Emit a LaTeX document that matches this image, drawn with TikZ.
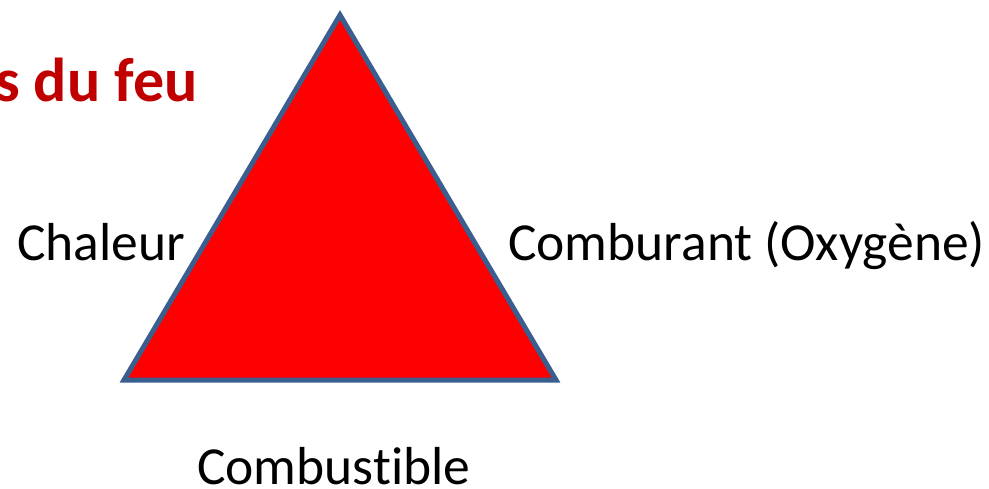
\documentclass[tikz,border=0pt]{standalone}
\usepackage{fontspec}
\setmainfont{Carlito}[Ligatures={NoCommon}]
\definecolor{edgeblue}{HTML}{3A5F8F}
\definecolor{titlered}{HTML}{C00000}
\begin{document}
\begin{tikzpicture}[x=1pt,y=-1pt,
  lbl/.style={font=\fontsize{53.5}{60}\selectfont, inner sep=0pt, anchor=base west},
  ttl/.style={font=\fontsize{62}{70}\selectfont\bfseries, text=titlered, inner sep=0pt, anchor=base west}]
\useasboundingbox (0,0) rectangle (989,488);
\coordinate (apex) at (340,15);
\coordinate (bl) at (124,380);
\coordinate (br) at (556,380);
\fill[red] (apex) -- (br) -- (bl) -- cycle;
\draw[edgeblue, line width=5pt, line join=miter] (apex) -- (br) -- (bl) -- cycle;
\node[ttl] (title) at (-5,101) {s du feu};
\node[lbl] (chaleur) at (17,260) {Chaleur};
\node[lbl] (comburant) at (508,260) {Comburant (Oxygène)};
\node[lbl] (combustible) at (197,484) {Combustible};
\end{tikzpicture}
\end{document}
